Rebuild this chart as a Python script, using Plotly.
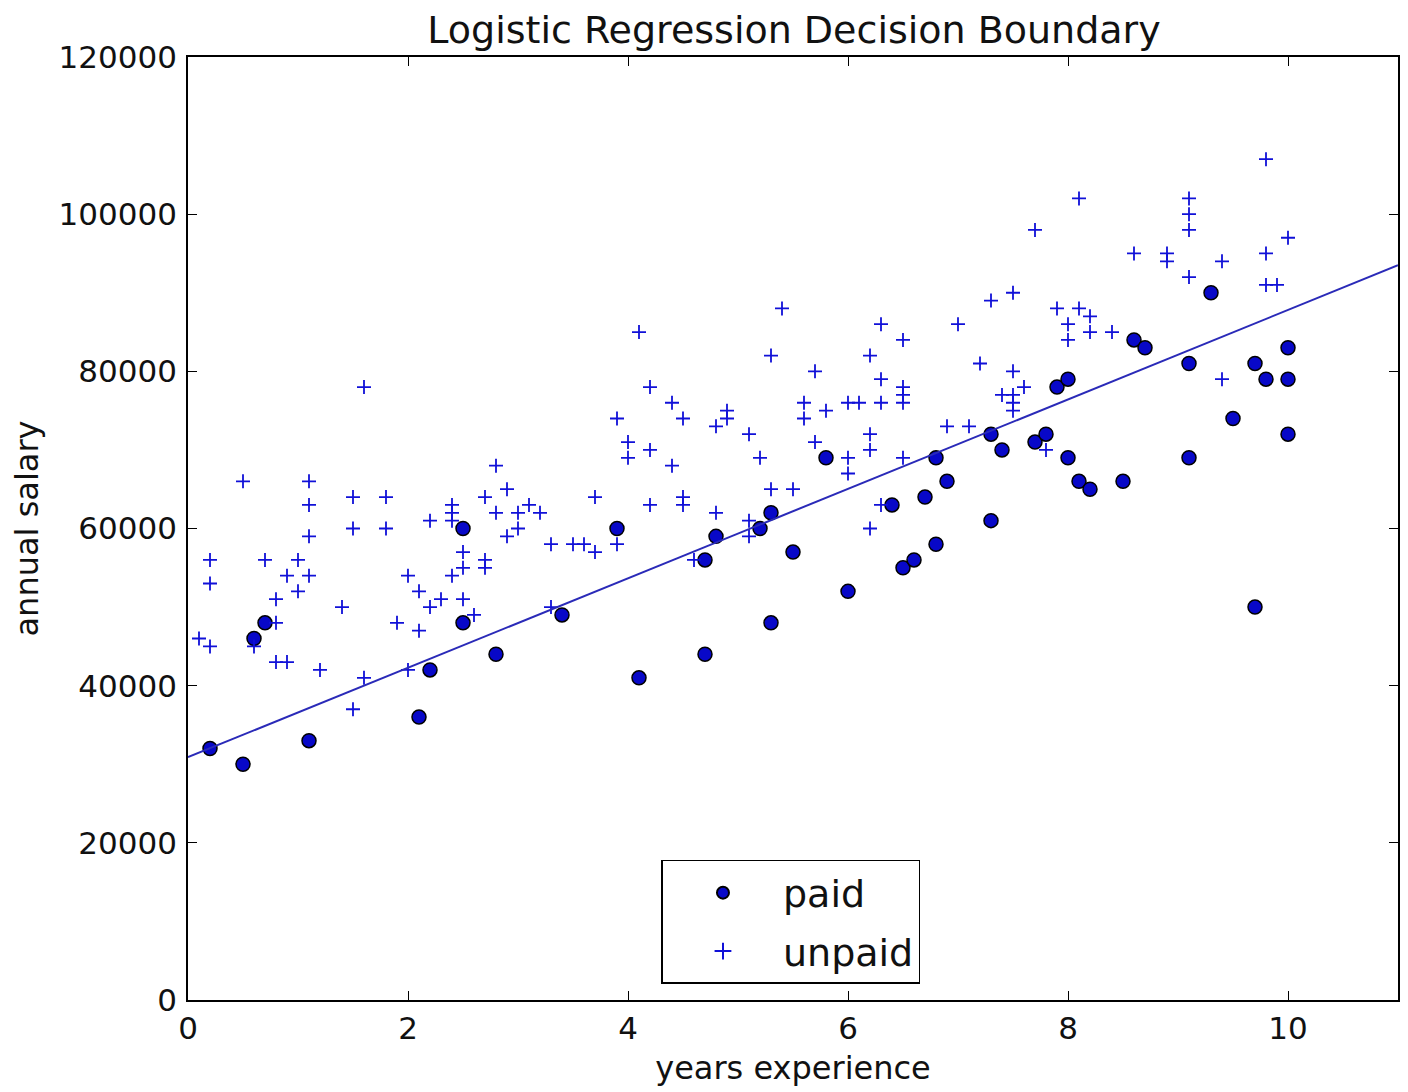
import plotly.graph_objects as go

# ---- data ----
paid_x = [0.2, 0.5, 0.6, 0.7, 1.1, 2.1, 2.2, 2.5, 2.5, 2.8, 3.4, 3.9, 4.1, 4.7, 4.7, 4.8,
          5.2, 5.3, 5.3, 5.5, 5.8, 6.0, 6.4, 6.5, 6.6, 6.7, 6.8, 6.8, 6.9, 7.3, 7.3, 7.4,
          7.7, 7.8, 7.9, 8.0, 8.0, 8.1, 8.2, 8.5, 8.6, 8.7, 9.1, 9.1, 9.3, 9.5, 9.7, 9.7,
          9.8, 10.0, 10.0, 10.0]
paid_y = [32000, 30000, 46000, 48000, 33000, 36000, 42000, 60000, 48000, 44000, 49000, 60000,
          41000, 56000, 44000, 59000, 60000, 62000, 48000, 57000, 69000, 52000, 63000, 55000,
          56000, 64000, 69000, 58000, 66000, 72000, 61000, 70000, 71000, 72000, 78000, 79000,
          69000, 66000, 65000, 66000, 84000, 83000, 81000, 69000, 90000, 74000, 81000, 50000,
          79000, 83000, 79000, 72000]

unpaid_x = [0.1, 0.2, 0.2, 0.2, 0.5, 0.6, 0.7, 0.8, 0.8, 0.8, 0.9, 0.9, 1.0, 1.0, 1.1, 1.1,
            1.1, 1.1, 1.2, 1.4, 1.5, 1.5, 1.5, 1.6, 1.6, 1.8, 1.8, 1.9, 2.0, 2.0, 2.1, 2.1,
            2.2, 2.2, 2.3, 2.4, 2.4, 2.4, 2.4, 2.5, 2.5, 2.5, 2.6, 2.7, 2.7, 2.7, 2.8, 2.8,
            2.9, 2.9, 3.0, 3.0, 3.1, 3.2, 3.3, 3.3, 3.5, 3.6, 3.7, 3.7, 3.9, 3.9, 4.0, 4.0,
            4.1, 4.2, 4.2, 4.2, 4.4, 4.4, 4.5, 4.5, 4.5, 4.6, 4.8, 4.8, 4.9, 4.9, 5.1, 5.1,
            5.1, 5.2, 5.3, 5.3, 5.4, 5.5, 5.6, 5.6, 5.7, 5.7, 5.8, 6.0, 6.0, 6.0, 6.1, 6.2,
            6.2, 6.2, 6.2, 6.3, 6.3, 6.3, 6.3, 6.5, 6.5, 6.5, 6.5, 6.5, 6.9, 7.0, 7.1, 7.2,
            7.3, 7.4, 7.5, 7.5, 7.5, 7.5, 7.5, 7.6, 7.7, 7.8, 7.9, 8.0, 8.0, 8.1, 8.1, 8.2,
            8.2, 8.4, 8.6, 8.9, 8.9, 9.1, 9.1, 9.1, 9.1, 9.4, 9.4, 9.8, 9.8, 9.8, 9.9, 10.0]
unpaid_y = [46000, 45000, 53000, 56000, 66000, 45000, 56000, 48000, 51000, 43000, 43000, 54000,
            56000, 52000, 66000, 63000, 59000, 54000, 42000, 50000, 64000, 60000, 37000, 78000,
            41000, 64000, 60000, 48000, 54000, 42000, 52000, 47000, 61000, 50000, 51000, 63000,
            62000, 61000, 54000, 57000, 55000, 51000, 49000, 64000, 56000, 55000, 68000, 62000,
            65000, 59000, 62000, 60000, 63000, 62000, 58000, 50000, 58000, 58000, 57000, 64000,
            74000, 58000, 71000, 69000, 85000, 78000, 70000, 63000, 68000, 76000, 74000, 64000,
            63000, 56000, 73000, 62000, 75000, 74000, 72000, 61000, 59000, 69000, 82000, 65000,
            88000, 65000, 76000, 74000, 80000, 71000, 75000, 76000, 69000, 67000, 76000, 82000,
            72000, 70000, 60000, 86000, 79000, 76000, 63000, 84000, 78000, 77000, 76000, 69000,
            73000, 86000, 73000, 81000, 89000, 77000, 90000, 80000, 77000, 76000, 75000, 78000,
            98000, 70000, 88000, 86000, 84000, 102000, 88000, 87000, 85000, 85000, 95000, 95000,
            94000, 102000, 100000, 98000, 92000, 94000, 79000, 107000, 95000, 91000, 91000, 97000]

boundary_x = [0, 11]
boundary_y = [30900, 93500]

x_ticks = [0, 2, 4, 6, 8, 10]
y_ticks = [0, 20000, 40000, 60000, 80000, 100000, 120000]

FONT = "DejaVu Sans"
TXT = "#111111"

fig = go.Figure()
fig.add_trace(go.Scatter(
    x=paid_x, y=paid_y, mode="markers", name="paid", legendgroup="paid",
    marker=dict(symbol="circle", size=14, color="#0808c8",
                line=dict(color="black", width=1.5)),
))
fig.add_trace(go.Scatter(
    x=unpaid_x, y=unpaid_y, mode="markers", name="unpaid", legendgroup="unpaid",
    marker=dict(symbol="cross-thin", size=10, color="#1010d8",
                line=dict(color="#1010d8", width=1.8)),
))
fig.add_trace(go.Scatter(
    x=boundary_x, y=boundary_y, mode="lines", showlegend=False,
    line=dict(color="#2a2ab8", width=2),
))

axis_common = dict(
    showgrid=False, zeroline=False, showline=True, linecolor="black", linewidth=1.8,
    mirror="ticks", ticks="inside", ticklen=9, tickwidth=1.2, tickcolor="black",
    tickfont=dict(family=FONT, size=31, color=TXT),
)

fig.update_layout(
    width=1400, height=1084,
    margin=dict(l=178, r=8, t=49, b=92),
    paper_bgcolor="white", plot_bgcolor="white",
    title=dict(text="Logistic Regression Decision Boundary", x=786 / 1400, xanchor="center",
               y=1 - 22 / 1084, yanchor="middle", yref="container",
               font=dict(family=FONT, size=38, color=TXT)),
    xaxis=dict(range=[0, 11], tickvals=x_ticks, ticktext=[str(v) for v in x_ticks],
               title=dict(text="years experience", font=dict(family=FONT, size=32, color=TXT),
                          standoff=12),
               **axis_common),
    yaxis=dict(range=[0, 120000], tickvals=y_ticks, ticktext=[str(v) for v in y_ticks],
               ticklabelstandoff=3,
               title=dict(text="annual salary", font=dict(family=FONT, size=32, color=TXT),
                          standoff=20),
               **axis_common),
    legend=dict(x=0.3913, y=0.1485, xanchor="left", yanchor="top",
                bordercolor="black", borderwidth=1.5, bgcolor="white",
                font=dict(family=FONT, size=38, color=TXT),
                itemsizing="constant", itemwidth=110, tracegroupgap=6),
)

fig.write_html("out.html")
